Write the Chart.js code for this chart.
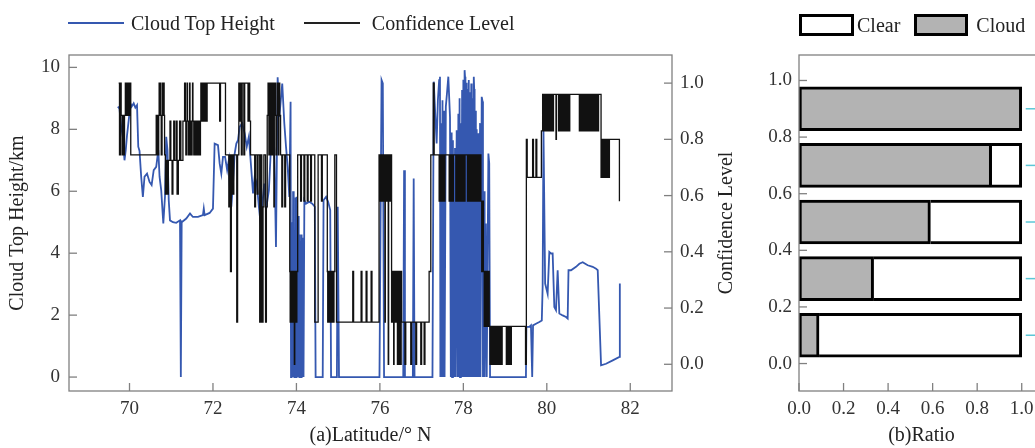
<!DOCTYPE html>
<html>
<head>
<meta charset="utf-8">
<script src="https://cdn.jsdelivr.net/npm/chart.js@4.4.1/dist/chart.umd.min.js"></script>
<style>
  body { margin: 0; background: #fff; font-family: 'Liberation Serif', 'Times New Roman', serif; color: #222; }
  #wrapA { position: absolute; left: 0; top: 0; width: 712px; height: 448px; }
  #wrapB { position: absolute; left: 700px; top: 0; width: 335px; height: 448px; overflow: hidden; }
  #innerB { position: relative; width: 344px; height: 448px; }
  .legend { position: absolute; display: flex; align-items: center; font-size: 20px; line-height: 24px; white-space: nowrap; }
  .ln { display: inline-block; width: 56px; height: 0; }
  .bx { display: inline-block; box-sizing: border-box; height: 22px; border: 3px solid #000; }
</style>
</head>
<body>
<div id="wrapA"><canvas id="chartA"></canvas></div>
<div id="wrapB"><div id="innerB"><canvas id="chartB"></canvas></div></div>

<div class="legend" style="left:68px; top:11px;">
  <span class="ln" style="border-top:2px solid #3558b0;"></span>
  <span style="margin-left:7px;">Cloud Top Height</span>
  <span class="ln" style="border-top:2px solid #222; margin-left:29px;"></span>
  <span style="margin-left:12px;">Confidence Level</span>
</div>
<div class="legend" style="left:799px; top:13px;">
  <span class="bx" style="width:55px; background:#fff;"></span>
  <span style="margin-left:3px;">Clear</span>
  <span class="bx" style="width:54px; background:#b3b3b3; margin-left:14px;"></span>
  <span style="margin-left:8px;">Cloud</span>
</div>

<script>
// (a) cloud top height along the track: [latitude, km]
const ctPoints = [
  [69.72, 8.73], [69.76, 8.67], [69.80, 8.08], [69.84, 7.76], [69.88, 7.00], [69.91, 7.33], [69.94, 7.80], [69.99, 8.40],
  [70.02, 8.84], [70.05, 8.73], [70.10, 8.84], [70.14, 8.70], [70.18, 8.78], [70.21, 7.44], [70.24, 7.30], [70.28, 6.47],
  [70.32, 5.82], [70.36, 6.47], [70.42, 6.57], [70.48, 6.30], [70.53, 6.20], [70.58, 6.68], [70.64, 6.79], [70.69, 7.33],
  [70.72, 6.47], [70.76, 6.03], [70.81, 4.96], [70.85, 5.82], [70.88, 7.76], [70.91, 7.33], [70.94, 5.71], [70.97, 5.06],
  [71.04, 5.00], [71.12, 4.98], [71.21, 5.06], [71.23, 0], [71.25, 5.00], [71.36, 5.12], [71.45, 5.28], [71.52, 5.17],
  [71.64, 5.17], [71.76, 5.23], [71.78, 5.44], [71.80, 5.23], [71.92, 5.30], [72.00, 5.44], [72.04, 7.54], [72.12, 7.49],
  [72.16, 6.90], [72.20, 6.57], [72.24, 7.11], [72.29, 7.11], [72.34, 6.68], [72.38, 7.00], [72.41, 5.93], [72.44, 5.50],
  [72.48, 6.25], [72.52, 7.22], [72.56, 7.54], [72.60, 7.65], [72.64, 8.08], [72.70, 8.19], [72.76, 7.87], [72.81, 7.44],
  [72.86, 7.76], [72.92, 6.68], [72.96, 5.93], [73.00, 6.47], [73.05, 6.25], [73.10, 5.50], [73.15, 4.85], [73.19, 5.71],
  [73.23, 6.25], [73.27, 5.39], [73.34, 6.03], [73.39, 7.44], [73.43, 8.40], [73.47, 7.33], [73.51, 4.20], [73.55, 9.68],
  [73.59, 8.40], [73.66, 9.48], [73.71, 8.19], [73.75, 7.44], [73.79, 6.79], [73.83, 5.82],
  [73.86, 8.89], [73.87, 0], [73.88, 5.0], [73.89, 0], [73.90, 4.5], [73.91, 0], [73.92, 6.0], [73.93, 0],
  [73.94, 5.2], [73.95, 0], [73.96, 4.1], [73.97, 0], [73.98, 5.8], [73.99, 0], [74.00, 5.82], [74.01, 0],
  [74.02, 4.8], [74.03, 0], [74.04, 5.2], [74.05, 0], [74.06, 4.42], [74.07, 0], [74.08, 4.6], [74.09, 0],
  [74.10, 4.4], [74.11, 0], [74.12, 4.6], [74.13, 0], [74.14, 4.5], [74.15, 0], [74.16, 4.3], [74.17, 0],
  [74.19, 5.71], [74.23, 5.60], [74.31, 5.66], [74.38, 5.60], [74.44, 5.50], [74.46, 0], [74.63, 0], [74.65, 5.71],
  [74.71, 5.82], [74.76, 5.66], [74.81, 5.39], [74.83, 0], [74.97, 0], [74.99, 5.50], [75.02, 0], [75.99, 0],
  [76.04, 9.59], [76.07, 9.48], [76.10, 0], [76.56, 0], [76.58, 6.68], [76.60, 0], [76.79, 0], [76.81, 6.41],
  [76.83, 0], [77.26, 0], [77.29, 9.54], [77.33, 8.40], [77.36, 7.54], [77.39, 8.94], [77.42, 9.59], [77.44, 9.70],
  [77.45, 0], [77.47, 8.2], [77.48, 0], [77.50, 8.94], [77.52, 0], [77.54, 8.6], [77.55, 0], [77.58, 8.73],
  [77.61, 9.2], [77.64, 9.70], [77.68, 8.40], [77.70, 0], [77.72, 7.9], [77.73, 0], [77.75, 7.65], [77.77, 0],
  [77.80, 7.4], [77.81, 0], [77.84, 7.97], [77.86, 0], [77.88, 8.5], [77.89, 0], [77.91, 9.0], [77.92, 0],
  [77.94, 8.2], [77.95, 0], [77.97, 9.27], [77.98, 0], [78.00, 9.6], [78.01, 0], [78.03, 9.91], [78.04, 9.7],
  [78.05, 0], [78.07, 9.5], [78.08, 0], [78.10, 9.3], [78.11, 0], [78.13, 9.59], [78.14, 0], [78.16, 9.2],
  [78.17, 0], [78.19, 9.48], [78.20, 0], [78.22, 9.0], [78.23, 0], [78.25, 9.70], [78.26, 9.3], [78.27, 0],
  [78.29, 8.6], [78.30, 0], [78.32, 8.0], [78.33, 0], [78.36, 7.87], [78.37, 0], [78.40, 8.2], [78.41, 0],
  [78.44, 9.05], [78.46, 8.9], [78.47, 0], [78.50, 6.0], [78.51, 0], [78.54, 4.96], [78.56, 0], [78.60, 7.22],
  [78.62, 6.9], [78.64, 0], [79.50, 0], [79.51, 1.62], [79.58, 1.62], [79.62, 1.67], [79.65, 0], [79.67, 1.67],
  [79.74, 1.72], [79.82, 1.78], [79.88, 1.83], [79.90, 2.91], [79.92, 7.97], [79.96, 3.02], [80.02, 2.69], [80.06, 4.04],
  [80.10, 3.99], [80.14, 3.99], [80.18, 2.26], [80.22, 2.16], [80.26, 3.45], [80.30, 2.05], [80.38, 1.99], [80.46, 1.94],
  [80.50, 1.89], [80.52, 3.45], [80.58, 3.45], [80.70, 3.56], [80.78, 3.66], [80.86, 3.71], [80.98, 3.61], [81.10, 3.56],
  [81.18, 3.50], [81.22, 3.45], [81.30, 0.38], [81.42, 0.43], [81.58, 0.54], [81.74, 0.65], [81.75, 3.02]
];

// (a) confidence level: [latitude where the level starts, level]
const confSteps = [
  [69.74, 1.0], [69.76, 0.745], [69.78, 1.0], [69.80, 0.885], [69.82, 0.745], [69.84, 0.885], [69.86, 0.745], [69.88, 0.885],
  [69.90, 1.0], [69.92, 0.885], [69.93, 1.0], [69.95, 0.885], [69.96, 1.0], [69.98, 0.885], [70.00, 1.0], [70.03, 0.745],
  [70.64, 0.885], [70.66, 0.745], [70.67, 0.885], [70.68, 0.745], [70.70, 0.885], [70.71, 1.0], [70.72, 0.885], [70.74, 1.0],
  [70.75, 0.885], [70.76, 0.745], [70.78, 0.885], [70.79, 1.0], [70.80, 0.885], [70.82, 1.0], [70.83, 0.885], [70.84, 0.745],
  [70.86, 0.605], [70.88, 0.725], [70.90, 0.605], [70.93, 0.725],
  [70.97, 0.865], [70.99, 0.725], [71.02, 0.605], [71.04, 0.725], [71.06, 0.865], [71.08, 0.725], [71.12, 0.865], [71.14, 0.605],
  [71.17, 0.725], [71.20, 0.865], [71.23, 0.725], [71.28, 0.865],
  [71.32, 1.0], [71.34, 0.865], [71.35, 0.745], [71.37, 0.865], [71.38, 1.0], [71.39, 0.865], [71.41, 0.745], [71.42, 0.865],
  [71.44, 1.0], [71.45, 0.745], [71.47, 0.865], [71.48, 0.745], [71.50, 0.865], [71.51, 1.0], [71.52, 0.865], [71.54, 0.745],
  [71.55, 0.865], [71.56, 0.745], [71.58, 0.865], [71.59, 0.745], [71.61, 0.865], [71.62, 0.745], [71.64, 0.865], [71.65, 0.745],
  [71.67, 0.865], [71.68, 0.745], [71.70, 0.865], [71.71, 1.0], [71.72, 0.865], [71.74, 1.0], [71.75, 0.865], [71.77, 1.0],
  [71.78, 0.865], [71.80, 1.0], [71.81, 0.865], [71.83, 1.0], [71.84, 0.865], [71.86, 1.0],
  [72.16, 0.865], [72.18, 1.0], [72.30, 0.745], [72.38, 0.56], [72.40, 0.745], [72.42, 0.33], [72.44, 0.745], [72.47, 0.605],
  [72.50, 0.745], [72.57, 0.15], [72.59, 0.745],
  [72.62, 1.0], [72.64, 0.865], [72.66, 1.0], [72.68, 0.745], [72.70, 1.0], [72.74, 0.745], [72.76, 1.0], [72.84, 0.865],
  [72.86, 1.0], [72.88, 0.865], [72.90, 0.745],
  [73.00, 0.56], [73.02, 0.745], [73.06, 0.605], [73.08, 0.745], [73.12, 0.15], [73.14, 0.745], [73.17, 0.15], [73.20, 0.56],
  [73.22, 0.745], [73.26, 0.15], [73.28, 0.56], [73.30, 0.885],
  [73.32, 1.0], [73.33, 0.885], [73.34, 0.745], [73.35, 0.885], [73.36, 1.0], [73.37, 0.885], [73.38, 0.745], [73.39, 0.885],
  [73.40, 1.0], [73.41, 0.885], [73.42, 0.745], [73.43, 0.885], [73.44, 1.0], [73.45, 0.885], [73.46, 0.56], [73.47, 0.885],
  [73.48, 1.0], [73.50, 0.885], [73.51, 0.745], [73.52, 0.885], [73.54, 1.0], [73.55, 0.885], [73.56, 0.745], [73.58, 1.0],
  [73.60, 0.885], [73.62, 0.745], [73.65, 0.56], [73.67, 0.745], [73.72, 0.56], [73.74, 0.745],
  [73.84, 0.33], [73.85, 0.15], [73.86, 0.33], [73.87, 0.15], [73.88, 0.33], [73.89, 0.15], [73.90, 0.33], [73.91, 0.15],
  [73.92, 0.33], [73.93, 0.15], [73.94, 0.33], [73.95, 0.0], [73.96, 0.15], [73.97, 0.33], [73.98, 0.15], [73.99, 0.33],
  [74.00, 0.15], [74.01, 0.33], [74.03, 0.745],
  [74.10, 0.58], [74.12, 0.745], [74.18, 0.58], [74.20, 0.745], [74.26, 0.58], [74.28, 0.745], [74.34, 0.58], [74.36, 0.745],
  [74.44, 0.15], [74.52, 0.745], [74.60, 0.58], [74.62, 0.745], [74.74, 0.33], [74.75, 0.15], [74.76, 0.33], [74.77, 0.15],
  [74.78, 0.33], [74.79, 0.15], [74.80, 0.33], [74.81, 0.15], [74.82, 0.33], [74.83, 0.15], [74.84, 0.33], [74.85, 0.15],
  [74.86, 0.33], [74.87, 0.15], [74.88, 0.33], [74.89, 0.15], [74.90, 0.33], [74.92, 0.745], [74.96, 0.15],
  [75.35, 0.33], [75.37, 0.15], [75.55, 0.33], [75.57, 0.15], [75.67, 0.33], [75.69, 0.15], [75.79, 0.33], [75.81, 0.15],
  [75.98, 0.745], [76.00, 0.58], [76.01, 0.745], [76.03, 0.58], [76.04, 0.745], [76.06, 0.58], [76.07, 0.745], [76.09, 0.58],
  [76.10, 0.745], [76.12, 0.15], [76.13, 0.58], [76.15, 0.745], [76.17, 0.58], [76.18, 0.745], [76.20, 0.0], [76.21, 0.58],
  [76.23, 0.745], [76.25, 0.58], [76.26, 0.745], [76.28, 0.15], [76.30, 0.33], [76.33, 0.0], [76.34, 0.33], [76.36, 0.15],
  [76.38, 0.33], [76.40, 0.15], [76.42, 0.0], [76.43, 0.33], [76.44, 0.0], [76.45, 0.33], [76.46, 0.0], [76.47, 0.33],
  [76.48, 0.0], [76.49, 0.33], [76.50, 0.0], [76.51, 0.33], [76.52, 0.15],
  [76.60, 0.0], [76.62, 0.15], [76.74, 0.0], [76.76, 0.15], [76.86, 0.0], [76.88, 0.15], [76.98, 0.0], [77.00, 0.15],
  [77.06, 0.0], [77.08, 0.15], [77.18, 0.33], [77.22, 0.745], [77.28, 1.0], [77.30, 0.745],
  [77.42, 0.58], [77.43, 0.745], [77.46, 0.58], [77.47, 0.745], [77.50, 0.58], [77.51, 0.745], [77.54, 0.58], [77.56, 0.745],
  [77.66, 0.58], [77.67, 0.745], [77.70, 0.58], [77.71, 0.745], [77.74, 0.58], [77.76, 0.745],
  [77.82, 0.58], [77.83, 0.745], [77.86, 0.58], [77.87, 0.745], [77.90, 0.58], [77.91, 0.745], [77.94, 0.58], [77.95, 0.745],
  [77.98, 0.58], [78.00, 0.745], [78.03, 0.58], [78.04, 0.745],
  [78.10, 0.58], [78.11, 0.745], [78.14, 0.58], [78.15, 0.745], [78.18, 0.58], [78.19, 0.745], [78.22, 0.58], [78.23, 0.745],
  [78.26, 0.58], [78.28, 0.745], [78.31, 0.58], [78.32, 0.745], [78.35, 0.58], [78.36, 0.745], [78.38, 0.58], [78.40, 0.745],
  [78.42, 0.58], [78.44, 0.33], [78.46, 0.58], [78.48, 0.33], [78.50, 0.135], [78.51, 0.33], [78.53, 0.135], [78.54, 0.33],
  [78.56, 0.135], [78.57, 0.33], [78.59, 0.135], [78.60, 0.33], [78.62, 0.135], [78.64, 0.0], [78.65, 0.135], [78.66, 0.0],
  [78.67, 0.135], [78.68, 0.0], [78.69, 0.135], [78.70, 0.0], [78.71, 0.135], [78.72, 0.0], [78.73, 0.135], [78.74, 0.0],
  [78.75, 0.135], [78.76, 0.0], [78.77, 0.135], [78.78, 0.0], [78.79, 0.135], [78.80, 0.0], [78.81, 0.135], [78.82, 0.0],
  [78.83, 0.135], [78.84, 0.0], [78.85, 0.135], [78.86, 0.0], [78.87, 0.135], [78.89, 0.0], [78.90, 0.135], [78.92, 0.0],
  [78.93, 0.135], [79.03, 0.0], [79.04, 0.135], [79.05, 0.0], [79.06, 0.135], [79.07, 0.0], [79.08, 0.135], [79.09, 0.0],
  [79.10, 0.135], [79.11, 0.0], [79.12, 0.135], [79.13, 0.0], [79.15, 0.135], [79.49, 0.0],
  [79.51, 0.80], [79.53, 0.665], [79.66, 0.80], [79.68, 0.665], [79.74, 0.80], [79.76, 0.665], [79.87, 0.83],
  [79.90, 0.96], [79.92, 0.83], [79.93, 0.96], [79.95, 0.83], [79.96, 0.96], [79.98, 0.83], [79.99, 0.96], [80.01, 0.83],
  [80.02, 0.96], [80.04, 0.83], [80.05, 0.96], [80.07, 0.83], [80.08, 0.96], [80.10, 0.83], [80.12, 0.96], [80.14, 0.83],
  [80.16, 0.96], [80.22, 0.80], [80.23, 0.96], [80.28, 0.83], [80.30, 0.96], [80.33, 0.83], [80.35, 0.96], [80.38, 0.83],
  [80.40, 0.96], [80.43, 0.83], [80.45, 0.96], [80.48, 0.83], [80.50, 0.96], [80.53, 0.83], [80.55, 0.96], [80.78, 0.83],
  [80.79, 0.96], [80.81, 0.83], [80.82, 0.96], [80.84, 0.83], [80.85, 0.96], [80.87, 0.83], [80.88, 0.96], [80.90, 0.83],
  [80.91, 0.96], [80.93, 0.83], [80.94, 0.96], [80.96, 0.83], [80.97, 0.96], [80.99, 0.83], [81.00, 0.96], [81.02, 0.83],
  [81.03, 0.96], [81.05, 0.83], [81.06, 0.96], [81.08, 0.83], [81.09, 0.96], [81.11, 0.83], [81.12, 0.96], [81.14, 0.83],
  [81.15, 0.96], [81.17, 0.83], [81.18, 0.96], [81.20, 0.83], [81.21, 0.96], [81.23, 0.83], [81.24, 0.96],
  [81.30, 0.665], [81.32, 0.80], [81.33, 0.665], [81.35, 0.80], [81.36, 0.665], [81.38, 0.80], [81.40, 0.665], [81.42, 0.80],
  [81.44, 0.665], [81.46, 0.80], [81.48, 0.665], [81.50, 0.80], [81.74, 0.58]
];

// (b) share of cloud / clear per confidence bin
const confLevels = [0.1, 0.3, 0.5, 0.7, 0.9];
const cloudRatio = [0.09, 0.335, 0.59, 0.865, 1.0];
const clearRatio = [0.91, 0.665, 0.41, 0.135, 0.0];

const serif = "'Liberation Serif', 'Times New Roman', serif";
const tickFont = { family: serif, size: 19 };
const titleFont = { family: serif, size: 20 };
const axisGray = '#808080';

// box around the plot + inward tick marks
const boxTicks = {
    id: 'boxTicks',
    afterDraw(chart) {
        const { ctx, chartArea: a } = chart;
        ctx.save();
        ctx.strokeStyle = axisGray;
        ctx.lineWidth = 1.3;
        ctx.strokeRect(a.left, a.top, a.right - a.left, a.bottom - a.top);
        Object.values(chart.scales).forEach(s => {
            s.ticks.forEach(t => {
                const p = s.getPixelForValue(t.value);
                ctx.beginPath();
                if (s.axis === 'x') { ctx.moveTo(p, a.bottom); ctx.lineTo(p, a.bottom - 8); }
                else if (s.position === 'left') { ctx.moveTo(a.left, p); ctx.lineTo(a.left + 8, p); }
                else { ctx.moveTo(a.right, p); ctx.lineTo(a.right - 8, p); }
                ctx.stroke();
            });
        });
        ctx.restore();
    }
};

// little cyan marks at the far right of panel (b)
const sideMarks = {
    id: 'sideMarks',
    afterDraw(chart) {
        const { ctx, scales: { x, y } } = chart;
        const x0 = x.getPixelForValue(1.0) + 4;
        ctx.save();
        ctx.strokeStyle = '#5cc6d6';
        ctx.lineWidth = 1.5;
        confLevels.forEach(c => {
            const py = y.getPixelForValue(c);
            ctx.beginPath(); ctx.moveTo(x0, py); ctx.lineTo(x0 + 12, py); ctx.stroke();
        });
        ctx.restore();
    }
};

new Chart(document.getElementById('chartA'), {
    type: 'line',
    data: {
        datasets: [{
            label: 'Cloud Top Height',
            data: ctPoints.map(p => ({ x: p[0], y: p[1] })),
            yAxisID: 'y',
            borderColor: '#3558b0',
            borderWidth: 1.8,
            pointRadius: 0,
            tension: 0,
            order: 1
        }, {
            label: 'Confidence Level',
            data: confSteps.map(p => ({ x: p[0], y: p[1] })),
            yAxisID: 'y1',
            borderColor: '#111',
            borderWidth: 1.3,
            pointRadius: 0,
            stepped: 'before',
            order: 0 // black drawn over the blue
        }]
    },
    options: {
        responsive: true,
        maintainAspectRatio: false,
        animation: false,
        layout: { padding: { top: 55, left: 0, right: 0, bottom: 0 } },
        plugins: { legend: { display: false }, tooltip: { enabled: false } },
        scales: {
            x: {
                type: 'linear', min: 68.55, max: 83,
                grid: { display: false, drawTicks: false }, border: { display: false },
                ticks: { stepSize: 2, includeBounds: false, padding: 7, font: tickFont, color: '#333' },
                title: { display: true, text: '(a)Latitude/° N', font: titleFont, color: '#222', padding: 0 },
                afterFit: s => { s.height = 57; }
            },
            y: {
                position: 'left', min: -0.45, max: 10.4,
                grid: { display: false, drawTicks: false }, border: { display: false },
                ticks: { stepSize: 2, includeBounds: false, padding: 9, font: tickFont, color: '#333' },
                title: { display: true, text: 'Cloud Top Height/km', font: titleFont, color: '#222', padding: { top: 6, bottom: 0 } },
                afterFit: s => { s.width = 69; }
            },
            y1: {
                position: 'right', min: -0.095, max: 1.1,
                grid: { display: false, drawTicks: false }, border: { display: false },
                ticks: { stepSize: 0.2, includeBounds: false, padding: 8, font: tickFont, color: '#333',
                         callback: v => v.toFixed(1) },
                afterFit: s => { s.width = 40; }
            }
        }
    },
    plugins: [boxTicks]
});

new Chart(document.getElementById('chartB'), {
    type: 'bar',
    data: {
        datasets: [{
            label: 'Cloud',
            data: confLevels.map((c, i) => ({ y: c, x: [0, cloudRatio[i]] })),
            backgroundColor: '#b3b3b3',
            borderColor: '#000',
            borderWidth: 3,
            borderSkipped: false,
            grouped: false,
            barThickness: 44
        }, {
            label: 'Clear',
            data: confLevels.map((c, i) => ({ y: c, x: [cloudRatio[i], cloudRatio[i] + clearRatio[i]] })),
            backgroundColor: '#fff',
            borderColor: '#000',
            borderWidth: { top: 3, right: 3, bottom: 3, left: 0 },
            borderSkipped: false,
            grouped: false,
            barThickness: 44
        }]
    },
    options: {
        indexAxis: 'y',
        responsive: true,
        maintainAspectRatio: false,
        animation: false,
        layout: { padding: { top: 55, left: 0, right: 0, bottom: 0 } },
        plugins: { legend: { display: false }, tooltip: { enabled: false } },
        scales: {
            x: {
                type: 'linear', min: 0, max: 1.1,
                grid: { display: false, drawTicks: false }, border: { display: false },
                ticks: { stepSize: 0.2, includeBounds: false, padding: 7, font: tickFont, color: '#333',
                         callback: v => v.toFixed(1) },
                title: { display: true, text: '(b)Ratio', font: titleFont, color: '#222', padding: 0 },
                afterFit: s => { s.height = 57; }
            },
            y: {
                type: 'linear', position: 'left', min: -0.097, max: 1.09, offset: false,
                grid: { display: false, drawTicks: false }, border: { display: false },
                ticks: { stepSize: 0.2, includeBounds: false, padding: 7, font: tickFont, color: '#333',
                         callback: v => v.toFixed(1) },
                title: { display: true, text: 'Confidence Level', font: titleFont, color: '#222', padding: { top: 15, bottom: 0 } },
                afterFit: s => { s.width = 99; }
            }
        }
    },
    plugins: [boxTicks, sideMarks]
});
</script>
</body>
</html>
